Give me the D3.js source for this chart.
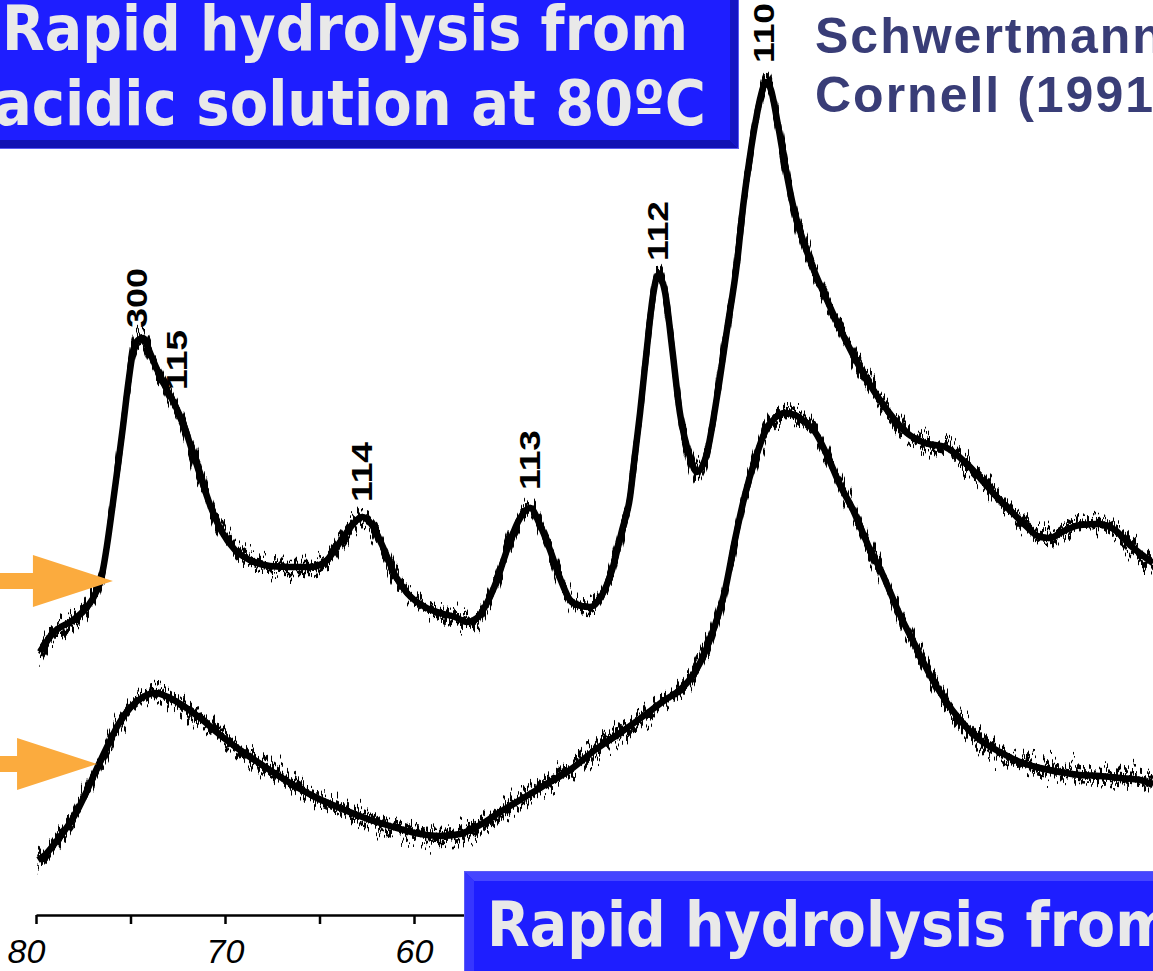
<!DOCTYPE html>
<html>
<head>
<meta charset="utf-8">
<title>XRD patterns - rapid hydrolysis</title>
<script src="https://cdn.jsdelivr.net/npm/d3@7"></script>
<style>
  html, body { margin: 0; padding: 0; background: #fff; overflow: hidden; }
  svg { display: block; }
</style>
</head>
<body>
<div id="chart"></div>
<script>
var width = 1153, height = 971;

// upper pattern (acidic solution, 80 C): 2-theta in degrees, intensity in arb. units
var twoThetaUpper = [79.79, 79.10, 78.04, 77.30, 76.77, 76.46, 76.24, 75.98, 75.66, 75.40,
  75.13, 74.87, 74.60, 74.34, 74.07, 73.81, 73.44, 73.07, 72.65, 72.22,
  71.75, 71.32, 70.79, 70.16, 69.47, 68.68, 67.62, 66.56, 65.50, 64.71,
  64.02, 63.39, 62.75, 62.22, 61.69, 61.01, 60.37, 59.42, 58.62, 57.83,
  57.20, 56.67, 56.14, 55.61, 55.08, 54.50, 53.86, 53.33, 52.80, 52.28,
  51.59, 50.69, 50.05, 49.52, 48.99, 48.57, 48.31, 48.04, 47.67, 47.35,
  47.09, 46.72, 46.35, 45.93, 45.40, 45.03, 44.50, 43.97, 43.44, 42.91,
  42.59, 42.33, 41.96, 41.64, 41.38, 41.11, 40.79, 40.37, 39.95, 39.05,
  38.15, 37.09, 36.03, 34.97, 33.92, 32.96, 31.90, 30.85, 30.05, 29.26,
  28.47, 27.67, 26.88, 26.35, 25.71, 24.76, 23.70, 22.91, 22.12, 20.90];
var countsUpper = [248, 267, 280, 293, 310, 330, 355, 390, 435, 473,
  515, 548, 560, 562, 552, 540, 524, 510, 495, 477,
  450, 425, 395, 368, 350, 340, 334, 333, 333, 338,
  355, 372, 383, 375, 355, 325, 307, 293, 287, 283,
  278, 282, 297, 320, 350, 378, 392, 375, 350, 322,
  297, 293, 305, 330, 370, 403, 445, 487, 553, 605,
  625, 608, 553, 487, 443, 428, 447, 503, 570, 637,
  693, 730, 775, 805, 818, 810, 780, 735, 695, 640,
  600, 557, 520, 490, 467, 457, 453, 438, 422, 405,
  390, 375, 363, 362, 368, 375, 376, 370, 355, 337];

// lower pattern
var twoThetaLower = [79.89, 79.52, 78.99, 78.47, 77.94, 77.41, 76.77, 76.19, 75.66, 75.03,
  74.34, 73.70, 73.02, 72.28, 71.32, 70.26, 69.21, 67.88, 66.56, 65.24,
  63.92, 62.59, 61.27, 59.95, 58.62, 57.57, 56.51, 55.45, 54.39, 53.07,
  51.75, 50.42, 49.10, 47.78, 46.72, 45.93, 45.13, 44.60, 44.07, 43.54,
  43.02, 42.49, 41.96, 41.43, 40.90, 40.37, 39.84, 39.31, 38.78, 38.15,
  37.46, 36.77, 35.98, 35.19, 34.29, 33.49, 32.70, 31.90, 31.11, 30.05,
  28.99, 27.94, 26.88, 25.82, 24.76, 23.70, 22.65, 21.59, 20.90];
var countsLower = [40, 45, 57, 70, 85, 105, 132, 155, 175, 192,
  203, 207, 203, 195, 182, 165, 150, 133, 117, 103,
  92, 82, 74, 67, 64, 66, 75, 88, 100, 115,
  130, 150, 167, 185, 200, 210, 228, 248, 275, 310,
  360, 405, 440, 468, 482, 487, 485, 478, 468, 445,
  415, 390, 355, 325, 285, 255, 225, 200, 180, 160,
  148, 138, 132, 128, 125, 124, 122, 120, 115];

// reflection labels (hkl), placed just above their peaks
var peakHkl = ["300", "115", "114", "113", "112", "110"];
var peakTwoTheta = [74.66, 72.59, 62.75, 53.86, 47.09, 41.48];
var peakLabelCounts = [572, 510, 398, 410, 639, 837];

// arrows pointing at the two patterns
var arrowTwoTheta = [75.93, 76.77];
var arrowCounts = [319, 136];

var axisTicks = [80, 75, 70, 65, 60, 55, 50, 45, 40, 35, 30, 25, 20];
var axisLabels = [80, 70, 60];

var x = d3.scaleLinear().domain([80, 20]).range([36, 36 + 60 * 18.9]);
var y = d3.scaleLinear().domain([0, 900]).range([900, 0]);

var svg = d3.select("#chart").append("svg")
  .attr("width", width)
  .attr("height", height);

// rough, noisy look of the scanned trace
var defs = svg.append("defs");
[["jag1", 4, 40], ["jag2", 11, 40], ["jag3", 23, 56]].forEach(function(f) {
  var filt = defs.append("filter")
    .attr("id", f[0])
    .attr("filterUnits", "userSpaceOnUse")
    .attr("x", 0).attr("y", 0).attr("width", width).attr("height", height);
  filt.append("feTurbulence")
    .attr("type", "fractalNoise")
    .attr("baseFrequency", "0.3 0.01")
    .attr("numOctaves", 2)
    .attr("seed", f[1])
    .attr("result", "noise");
  filt.append("feColorMatrix")
    .attr("in", "noise")
    .attr("type", "matrix")
    .attr("values", "0 0 0 0 0.5  0 1 0 0 0  0 0 0 0 0  0 0 0 0 1")
    .attr("result", "vnoise");
  filt.append("feDisplacementMap")
    .attr("in", "SourceGraphic")
    .attr("in2", "vnoise")
    .attr("scale", f[2])
    .attr("xChannelSelector", "R")
    .attr("yChannelSelector", "G");
});

// x axis
var axisY = 915;
var axis = svg.append("g")
  .attr("transform", "translate(0," + axisY + ")")
  .call(d3.axisBottom(x)
    .tickValues(axisTicks)
    .tickSize(9)
    .tickSizeOuter(0)
    .tickFormat(function(d) { return axisLabels.indexOf(d) >= 0 ? d : ""; }));
axis.select(".domain").attr("stroke", "#000").attr("stroke-width", 2.5);
axis.selectAll(".tick line").attr("stroke", "#000").attr("stroke-width", 2.5);
axis.selectAll(".tick text")
  .attr("y", 24)
  .attr("dx", function(d) { return d === 80 ? -10 : 0; })
  .attr("fill", "#000")
  .style("font-family", "'Liberation Sans', Arial, sans-serif")
  .style("font-style", "italic")
  .style("font-size", "34px");

// the two patterns
function series(tt, cc) {
  return tt.map(function(t, i) { return [t, cc[i]]; });
}
var line = d3.line()
  .x(function(d) { return x(d[0]); })
  .y(function(d) { return y(d[1]); })
  .curve(d3.curveMonotoneX);

[series(twoThetaUpper, countsUpper), series(twoThetaLower, countsLower)].forEach(function(s) {
  svg.append("path")
    .datum(s)
    .attr("d", line)
    .attr("fill", "none")
    .attr("stroke", "#000")
    .attr("stroke-width", 6.5)
    .attr("stroke-linejoin", "round");
  ["jag1", "jag2", "jag3"].forEach(function(f) {
    svg.append("path")
      .datum(s)
      .attr("d", line)
      .attr("fill", "none")
      .attr("stroke", "#000")
      .attr("stroke-width", f === "jag3" ? 2.5 : 4.5)
      .attr("filter", "url(#" + f + ")");
  });
});

// hkl labels
peakHkl.forEach(function(h, i) {
  var px = x(peakTwoTheta[i]), py = y(peakLabelCounts[i]);
  svg.append("text")
    .attr("transform", "translate(" + px + "," + py + ") rotate(-90)")
    .attr("dy", "0.36em")
    .attr("textLength", 60)
    .attr("lengthAdjust", "spacingAndGlyphs")
    .style("font-family", "'Liberation Sans', Arial, sans-serif")
    .style("font-weight", "bold")
    .style("font-size", "29px")
    .attr("fill", "#000")
    .text(h);
});

// orange arrows
arrowTwoTheta.forEach(function(t, i) {
  var tx = x(t), ty = y(arrowCounts[i]);
  var hx = tx - 80;
  var pts = [[-5, ty - 8], [hx, ty - 8], [hx, ty - 26], [tx, ty], [hx, ty + 26], [hx, ty + 8], [-5, ty + 8]];
  svg.append("polygon")
    .attr("points", pts.map(function(p) { return p.join(","); }).join(" "))
    .attr("fill", "#fbab3e");
});

// bevelled blue title boxes
function bevelBox(x0, y0, x1, y1, b) {
  var g = svg.append("g");
  g.append("rect").attr("x", x0).attr("y", y0).attr("width", x1 - x0).attr("height", y1 - y0)
    .attr("fill", "#1c1cff").attr("stroke", "#5b5bf5").attr("stroke-width", 2);
  g.append("polygon").attr("fill", "#4646ff")
    .attr("points", [[x0, y0], [x1, y0], [x1 - b, y0 + b], [x0 + b, y0 + b]].join(" "));
  g.append("polygon").attr("fill", "#3636ff")
    .attr("points", [[x0, y0], [x0 + b, y0 + b], [x0 + b, y1 - b], [x0, y1]].join(" "));
  g.append("polygon").attr("fill", "#1212b4")
    .attr("points", [[x0, y1], [x0 + b, y1 - b], [x1 - b, y1 - b], [x1, y1]].join(" "));
  g.append("polygon").attr("fill", "#1616c4")
    .attr("points", [[x1, y0], [x1, y1], [x1 - b, y1 - b], [x1 - b, y0 + b]].join(" "));
  g.append("rect").attr("x", x0 + b).attr("y", y0 + b)
    .attr("width", x1 - x0 - 2 * b).attr("height", y1 - y0 - 2 * b)
    .attr("fill", "#1e1eff");
  return g;
}
function boxText(g, tx, ty, len, s) {
  g.append("text")
    .attr("x", tx).attr("y", ty)
    .attr("textLength", len)
    .attr("lengthAdjust", "spacingAndGlyphs")
    .style("font-family", "'DejaVu Sans', Verdana, sans-serif")
    .style("font-weight", "bold")
    .style("font-size", "63px")
    .attr("fill", "#e9e9e9")
    .text(s);
}
var box1 = bevelBox(-20, -20, 738, 148, 8);
boxText(box1, 2, 50, 686, "Rapid hydrolysis from");
boxText(box1, -6, 125, 712, "acidic solution at 80\u00baC");

var box2 = bevelBox(465, 872, 1190, 1000, 9);
boxText(box2, 487, 946, 686, "Rapid hydrolysis from");

// citation
var cite = svg.append("g")
  .style("font-family", "'Liberation Sans', Arial, sans-serif")
  .style("font-weight", "bold")
  .style("font-size", "50px")
  .attr("fill", "#393d77");
cite.append("text").attr("x", 815).attr("y", 53).style("letter-spacing", "2px").text("Schwertmann and");
cite.append("text").attr("x", 815).attr("y", 112).style("letter-spacing", "2px").text("Cornell (1991)");
</script>
</body>
</html>
